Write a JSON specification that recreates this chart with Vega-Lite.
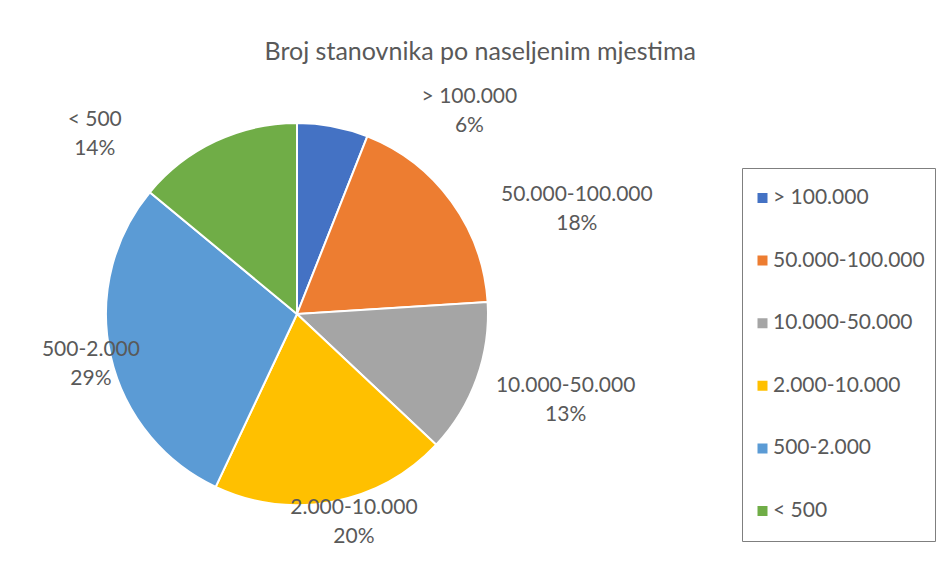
{
  "$schema": "https://vega.github.io/schema/vega-lite/v6.json",
  "width": 576,
  "height": 518,
  "autosize": {"type": "pad"},
  "padding": {"left": 9, "top": 40, "right": 0, "bottom": 0},
  "background": "white",
  "config": {"view": {"stroke": null}, "font": "Lato", "text": {"font": "Lato"}},
  "title": {
    "text": "Broj stanovnika po naseljenim mjestima",
    "frame": "bounds",
    "anchor": "middle",
    "orient": "top",
    "baseline": "bottom",
    "offset": -35,
    "dx": 8,
    "font": "Lato",
    "fontSize": 25,
    "fontWeight": "normal",
    "color": "#595959"
  },
  "data": {
    "values": [
      {"kategorija": "> 100.000", "udio": 0.06},
      {"kategorija": "50.000-100.000", "udio": 0.18},
      {"kategorija": "10.000-50.000", "udio": 0.13},
      {"kategorija": "2.000-10.000", "udio": 0.20},
      {"kategorija": "500-2.000", "udio": 0.29},
      {"kategorija": "< 500", "udio": 0.14}
    ]
  },
  "transform": [{"stack": "udio", "groupby": [], "as": ["u0", "u1"]}],
  "layer": [
    {
      "mark": {"type": "arc", "outerRadius": 191, "stroke": "white", "strokeWidth": 2},
      "encoding": {
        "theta": {"field": "u0", "type": "quantitative", "stack": null, "scale": {"domain": [0, 1], "range": [0, 6.283185307179586]}},
        "theta2": {"field": "u1"},
        "color": {
          "field": "kategorija",
          "type": "nominal",
          "scale": {
            "domain": ["> 100.000", "50.000-100.000", "10.000-50.000", "2.000-10.000", "500-2.000", "< 500"],
            "range": ["#4472C4", "#ED7D31", "#A5A5A5", "#FFC000", "#5B9BD5", "#70AD47"]
          },
          "legend": {
            "orient": "none",
            "legendX": 733,
            "legendY": 113,
            "title": null,
            "strokeColor": "#7f7f7f",
            "fillColor": "white",
            "padding": 10,
            "symbolType": "square",
            "symbolSize": 100,
            "symbolStrokeWidth": 0,
            "labelFont": "Lato",
            "labelFontSize": 21,
            "labelColor": "#595959",
            "labelOffset": 0,
            "labelLimit": 300,
            "rowPadding": 22.6,
            "clipHeight": 40
          }
        }
      }
    },
    {
      "transform": [{"filter": "datum.kategorija === '> 100.000'"}],
      "encoding": {"theta": {"field": "u0", "type": "quantitative", "stack": null}},
      "layer": [
        {"mark": {"type": "text", "radius": 266, "thetaOffset": 0.705, "dy": -14, "fontSize": 21, "color": "#595959"}, "encoding": {"text": {"field": "kategorija"}}},
        {"mark": {"type": "text", "radius": 266, "thetaOffset": 0.705, "dy": 15, "fontSize": 21, "color": "#595959"}, "encoding": {"text": {"field": "udio", "format": ".0%"}}}
      ]
    },
    {
      "transform": [{"filter": "datum.kategorija === '50.000-100.000'"}],
      "encoding": {"theta": {"field": "u0", "type": "quantitative", "stack": null}},
      "layer": [
        {"mark": {"type": "text", "radius": 299, "thetaOffset": 0.834, "dy": -14, "fontSize": 21, "color": "#595959"}, "encoding": {"text": {"field": "kategorija"}}},
        {"mark": {"type": "text", "radius": 299, "thetaOffset": 0.834, "dy": 15, "fontSize": 21, "color": "#595959"}, "encoding": {"text": {"field": "udio", "format": ".0%"}}}
      ]
    },
    {
      "transform": [{"filter": "datum.kategorija === '10.000-50.000'"}],
      "encoding": {"theta": {"field": "u0", "type": "quantitative", "stack": null}},
      "layer": [
        {"mark": {"type": "text", "radius": 282, "thetaOffset": 0.372, "dy": -14, "fontSize": 21, "color": "#595959"}, "encoding": {"text": {"field": "kategorija"}}},
        {"mark": {"type": "text", "radius": 282, "thetaOffset": 0.372, "dy": 15, "fontSize": 21, "color": "#595959"}, "encoding": {"text": {"field": "udio", "format": ".0%"}}}
      ]
    },
    {
      "transform": [{"filter": "datum.kategorija === '2.000-10.000'"}],
      "encoding": {"theta": {"field": "u0", "type": "quantitative", "stack": null}},
      "layer": [
        {"mark": {"type": "text", "radius": 216, "thetaOffset": 0.55, "dy": -14, "fontSize": 21, "color": "#595959"}, "encoding": {"text": {"field": "kategorija"}}},
        {"mark": {"type": "text", "radius": 216, "thetaOffset": 0.55, "dy": 15, "fontSize": 21, "color": "#595959"}, "encoding": {"text": {"field": "udio", "format": ".0%"}}}
      ]
    },
    {
      "transform": [{"filter": "datum.kategorija === '500-2.000'"}],
      "encoding": {"theta": {"field": "u0", "type": "quantitative", "stack": null}},
      "layer": [
        {"mark": {"type": "text", "radius": 212, "thetaOffset": 0.894, "dy": -14, "fontSize": 21, "color": "#595959"}, "encoding": {"text": {"field": "kategorija"}}},
        {"mark": {"type": "text", "radius": 212, "thetaOffset": 0.894, "dy": 15, "fontSize": 21, "color": "#595959"}, "encoding": {"text": {"field": "udio", "format": ".0%"}}}
      ]
    },
    {
      "transform": [{"filter": "datum.kategorija === '< 500'"}],
      "encoding": {"theta": {"field": "u0", "type": "quantitative", "stack": null}},
      "layer": [
        {"mark": {"type": "text", "radius": 271, "thetaOffset": 0.037, "dy": -14, "fontSize": 21, "color": "#595959"}, "encoding": {"text": {"field": "kategorija"}}},
        {"mark": {"type": "text", "radius": 271, "thetaOffset": 0.037, "dy": 15, "fontSize": 21, "color": "#595959"}, "encoding": {"text": {"field": "udio", "format": ".0%"}}}
      ]
    }
  ]
}
